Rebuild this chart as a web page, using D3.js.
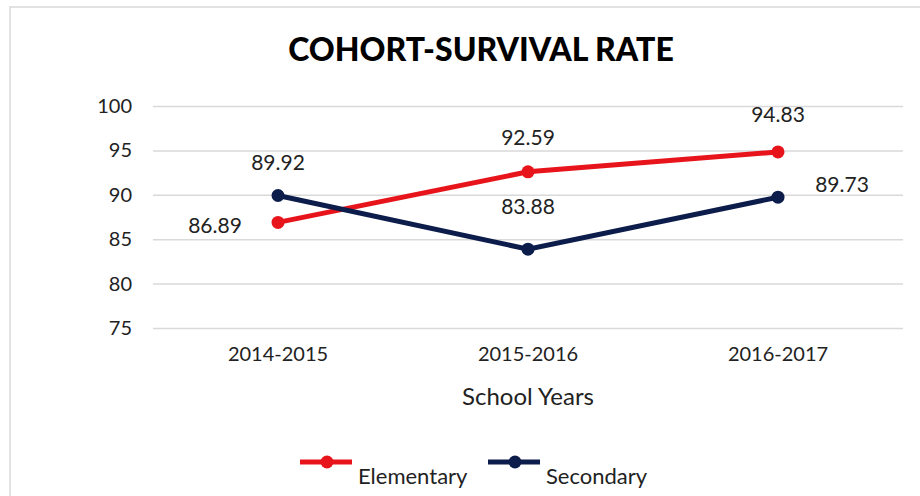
<!DOCTYPE html>
<html>
<head>
<meta charset="utf-8">
<script src="https://cdn.jsdelivr.net/npm/d3@7"></script>
<style>
  body { margin: 0; background: #fff; }
  text { font-family: Lato, "Open Sans", sans-serif; fill: #222; }
</style>
</head>
<body>
<script>
var years = ["2014-2015", "2015-2016", "2016-2017"];
var elementary = [86.89, 92.59, 94.83];
var secondary = [89.92, 83.88, 89.73];
var yTicks = [75, 80, 85, 90, 95, 100];

var svgWidth = 920, svgHeight = 496;
var margin = { top: 106, right: 17, bottom: 168, left: 153 };
var width = svgWidth - margin.left - margin.right;
var height = svgHeight - margin.top - margin.bottom;

var svg = d3.select("body").append("svg")
    .attr("width", svgWidth)
    .attr("height", svgHeight);

// outer chart frame
svg.append("rect")
    .attr("x", 10).attr("y", 7)
    .attr("width", 930).attr("height", 520)
    .attr("fill", "none")
    .attr("stroke", "#d9d9d9")
    .attr("stroke-width", 1.5);

svg.append("text")
    .attr("x", 481).attr("y", 61)
    .attr("text-anchor", "middle")
    .style("font-size", "32px")
    .style("font-weight", "900")
    .style("fill", "#000")
    .text("COHORT-SURVIVAL RATE");

var chartGroup = svg.append("g")
    .attr("transform", `translate(${margin.left}, ${margin.top})`);

var x = d3.scaleBand().domain(years).range([0, width]);
var y = d3.scaleLinear().domain([75, 100]).range([height, 0]);

// gridlines + y labels
var leftAxis = d3.axisLeft(y).tickValues(yTicks).tickSize(-width).tickPadding(21);
chartGroup.append("g")
    .call(leftAxis)
    .call(g => g.select(".domain").remove())
    .call(g => g.selectAll("line").attr("stroke", "#d9d9d9").attr("stroke-width", 1.5))
    .call(g => g.selectAll("text").style("font-size", "20px").style("fill", "#222")
        .style("font-family", "Lato, sans-serif"));

var bottomAxis = d3.axisBottom(x).tickSize(0).tickPadding(19);
chartGroup.append("g")
    .attr("transform", `translate(0, ${height})`)
    .call(bottomAxis)
    .call(g => g.select(".domain").remove())
    .call(g => g.selectAll("text").style("font-size", "20px").style("fill", "#222")
        .style("font-family", "Lato, sans-serif"));

svg.append("text")
    .attr("x", 528).attr("y", 405)
    .attr("text-anchor", "middle")
    .style("font-size", "24px")
    .text("School Years");

var series = [
    { name: "Elementary", values: elementary, color: "#e8141b" },
    { name: "Secondary", values: secondary, color: "#0c1d4b" }
];

var line = d3.line()
    .x((d, i) => x(years[i]) + x.bandwidth() / 2)
    .y(d => y(d));

series.forEach(function(s) {
    chartGroup.append("path")
        .datum(s.values)
        .attr("d", line)
        .attr("fill", "none")
        .attr("stroke", s.color)
        .attr("stroke-width", 5);
    chartGroup.selectAll(null)
        .data(s.values)
        .enter()
        .append("circle")
        .attr("cx", (d, i) => x(years[i]) + x.bandwidth() / 2)
        .attr("cy", d => y(d))
        .attr("r", 6.5)
        .attr("fill", s.color);
});

// data labels: [dx, dy]
var elemPos = [[-63, 11], [0, -27], [0, -30]];
var secPos = [[0, -26], [0, -35], [64, -5]];

function labels(values, pos) {
    chartGroup.selectAll(null)
        .data(values)
        .enter()
        .append("text")
        .attr("x", (d, i) => x(years[i]) + x.bandwidth() / 2 + pos[i][0])
        .attr("y", (d, i) => y(d) + pos[i][1])
        .attr("text-anchor", "middle")
        .style("font-size", "21px")
        .text(d => d.toFixed(2));
}
labels(elementary, elemPos);
labels(secondary, secPos);

// legend
var legend = svg.append("g");
var legendX = [300, 488];
series.forEach(function(s, i) {
    var g = legend.append("g").attr("transform", `translate(${legendX[i]}, 462)`);
    g.append("line").attr("x1", 0).attr("x2", 52).attr("y1", 0).attr("y2", 0)
        .attr("stroke", s.color).attr("stroke-width", 5);
    g.append("circle").attr("cx", 27).attr("cy", 0).attr("r", 6.5).attr("fill", s.color);
    g.append("text").attr("x", 58).attr("y", 22).style("font-size", "22px").text(s.name);
});
</script>
</body>
</html>
